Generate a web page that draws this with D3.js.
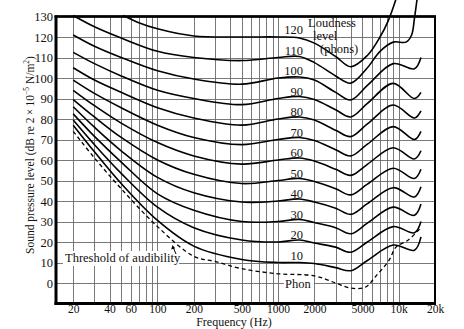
<!DOCTYPE html>
<html>
<head>
<meta charset="utf-8">
<script src="https://cdn.jsdelivr.net/npm/d3@7"></script>
<style>
  html, body { margin: 0; padding: 0; background: #fff; }
  svg { display: block; }
  text { font-family: "Liberation Serif", "Times New Roman", serif; fill: #111; }
</style>
</head>
<body>
<svg id="chart" width="464" height="329"></svg>
<script>
// Equal-loudness contours: [frequency Hz, sound pressure level dB]
const phon120 = [[52,130.5],[70,127],[100,124],[200,120.5],[500,120],[1000,120],[1500,119.5],[2000,117],[3000,110.5],[4000,105.5],[5500,111],[7000,120],[8200,128],[9500,138.5]];
const phon110 = [[20,130.5],[30,125],[50,119.5],[100,113],[200,110],[500,108.5],[1000,110],[1500,110.5],[2000,107.5],[3000,101],[4000,97.5],[5500,105],[7000,113],[9000,117.5],[11500,117.5],[12800,121],[13500,129],[14200,138.5]];
const phon100 = [[20,121],[30,115.5],[50,110],[100,103.5],[200,99.5],[500,97],[1000,100],[1500,100.5],[2000,99],[3000,93],[4000,89.3],[5500,96.4],[9000,107],[13500,104.5],[15300,110]];
const phon90  = [[20,112.5],[30,107],[50,101],[100,94],[200,90],[500,87],[1000,90],[1500,91],[2000,89.5],[3000,84.5],[4000,81],[5500,87.6],[9000,97.4],[13500,90],[15300,93]];
const phon80  = [[20,105],[30,99],[50,93],[100,85.5],[200,80.5],[500,77],[1000,80],[1500,81],[2000,79.5],[3000,74.5],[4000,71.4],[5500,77.6],[9000,86.8],[13500,80.5],[15300,84]];
const phon70  = [[20,99],[30,92.5],[50,85.5],[100,77],[200,71],[500,67.5],[1000,70],[1500,71],[2000,69.5],[3000,65],[4000,62],[5500,67.7],[9000,76.3],[13500,70],[15300,74]];
const phon60  = [[20,94],[30,86.5],[50,78],[100,68.5],[200,62],[500,58],[1000,60],[1500,61],[2000,59.5],[3000,55.5],[4000,52.5],[5500,57.9],[9000,66],[13500,60.5],[15300,64.5]];
const phon50  = [[20,89.5],[30,81],[50,71],[100,60],[200,53],[500,48.5],[1000,50],[1500,51],[2000,49.5],[3000,46],[4000,43],[5500,48.2],[9000,56],[13500,51],[15300,55.5]];
const phon40  = [[20,86],[30,76],[50,64.5],[100,51.5],[200,44],[500,39.5],[1000,40],[1500,41],[2000,39.5],[3000,36.5],[4000,33.5],[5500,38.7],[9000,46.5],[13500,42],[15300,47]];
const phon30  = [[20,82.5],[30,71.5],[50,59],[100,43.5],[200,35.5],[500,30],[1000,30],[1500,31],[2000,29.5],[3000,27],[4000,24],[5500,29.2],[9000,37],[13500,33],[15300,38.5]];
const phon20  = [[20,79.5],[30,67.5],[50,53.5],[100,37],[200,27],[500,21],[1000,20],[1500,21],[2000,19.5],[3000,17.5],[4000,15],[5500,20],[9000,27.5],[13500,24.5],[15300,30]];
const phon10  = [[20,77],[30,64],[50,48.5],[100,30.5],[200,18],[500,11.5],[1000,10],[1500,10],[2000,9.5],[3000,7.5],[4000,6],[5500,11],[9000,18.5],[13500,16],[15300,22.5]];
const threshold = [[20,74],[30,61],[50,46],[100,27.5],[200,13],[300,10.5],[500,7],[1000,4.5],[2000,3.5],[3000,0],[4000,-2.5],[5300,-2],[6500,3.5],[8300,11],[9500,17.5],[12000,21],[15300,27]];

const phonLevels = [120,110,100,90,80,70,60,50,40,30,20,10];
const contours = [phon120,phon110,phon100,phon90,phon80,phon70,phon60,phon50,phon40,phon30,phon20,phon10];

// Axis ticks and grid
const yTicks = [0,10,20,30,40,50,60,70,80,90,100,110,120,130];
const yGrid = [0,10,20,30,40,50,60,70,80,90,100,110,120];
const xTicks = [20,40,60,100,200,500,1000,2000,5000,10000,20000];
const xTickLabels = ["20","40","60","100","200","500","1000","2000","5000","10k","20k"];
const xGrid = [20,30,40,50,60,70,80,90,100,200,300,400,500,600,700,800,900,1000,2000,3000,4000,5000,6000,7000,8000,9000,10000];

const svg = d3.select("#chart");
const plotL = 56, plotR = 435, plotT = 16.5, plotB = 303.5;

const x = d3.scaleLog().domain([14.4, 20000]).range([plotL, plotR]);
const y = d3.scaleLinear().domain([-10, 130]).range([plotB, plotT]);

// grid
const grid = svg.append("g").attr("stroke", "#6a6a6a").attr("stroke-width", 0.9);
grid.selectAll("line.v").data(xGrid).join("line")
  .attr("class", "v")
  .attr("x1", d => Math.round(x(d)) + 0.5).attr("x2", d => Math.round(x(d)) + 0.5)
  .attr("y1", plotT).attr("y2", plotB);
grid.selectAll("line.h").data(yGrid).join("line")
  .attr("class", "h")
  .attr("x1", plotL).attr("x2", plotR)
  .attr("y1", d => Math.round(y(d)) + 0.5).attr("y2", d => Math.round(y(d)) + 0.5);

// label backgrounds that mask the grid
svg.append("rect").attr("x", 63).attr("y", 251).attr("width", 116).attr("height", 15).attr("fill", "#fff");
svg.append("rect").attr("x", 284).attr("y", 277).attr("width", 30).attr("height", 14).attr("fill", "#fff");

// contours
const line = d3.line()
  .x(d => x(d[0]))
  .y(d => y(d[1]))
  .curve(d3.curveCatmullRom.alpha(0.5));

svg.append("g").selectAll("path").data(contours).join("path")
  .attr("d", line)
  .attr("fill", "none")
  .attr("stroke", "#000")
  .attr("stroke-width", 1.6);

svg.append("path")
  .datum(threshold)
  .attr("d", line)
  .attr("fill", "none")
  .attr("stroke", "#000")
  .attr("stroke-width", 1.3)
  .attr("stroke-dasharray", "4,3");

// frame
svg.append("rect")
  .attr("x", plotL).attr("y", plotT)
  .attr("width", plotR - plotL).attr("height", plotB - plotT)
  .attr("fill", "none").attr("stroke", "#000").attr("stroke-width", 2);
svg.append("line").attr("x1", plotL).attr("x2", plotL).attr("y1", plotT - 1).attr("y2", plotB + 1.5)
  .attr("stroke", "#000").attr("stroke-width", 3);
svg.append("line").attr("x1", plotL - 1.5).attr("x2", plotR + 1).attr("y1", plotB).attr("y2", plotB)
  .attr("stroke", "#000").attr("stroke-width", 3);
svg.append("line").attr("x1", plotL - 1.5).attr("x2", plotR + 1).attr("y1", plotT).attr("y2", plotT)
  .attr("stroke", "#000").attr("stroke-width", 2.5);

// axes
const yAxis = svg.append("g")
  .attr("transform", `translate(${plotL - 3},0)`)
  .call(d3.axisLeft(y).tickValues(yTicks).tickSize(0).tickPadding(0).tickFormat(d3.format("d")));
yAxis.select(".domain").remove();
yAxis.selectAll("text").attr("font-size", 12.5).attr("font-family", "Liberation Serif").attr("fill", "#111");

const xAxis = svg.append("g")
  .attr("transform", `translate(0,${plotB})`)
  .call(d3.axisBottom(x).tickValues(xTicks).tickSize(0).tickPadding(1.5).tickFormat((d, i) => xTickLabels[i]));
xAxis.select(".domain").remove();
xAxis.selectAll("text").attr("font-size", 11.5).attr("font-family", "Liberation Serif").attr("fill", "#111");

// phon labels
svg.append("g").selectAll("text").data(phonLevels).join("text")
  .attr("x", 303)
  .attr("y", d => y(d) - 3)
  .attr("text-anchor", "end")
  .attr("font-size", 12.5)
  .text(d => d);

// legend heading
const head = svg.append("text").attr("font-size", 12.5);
head.append("tspan").attr("x", 308).attr("y", 27).text("Loudness");
head.append("tspan").attr("x", 313).attr("y", 40).text("level");
head.append("tspan").attr("x", 320).attr("y", 53).text("(phons)");

// threshold annotation
svg.append("text").attr("x", 65).attr("y", 262).attr("font-size", 12.5).text("Threshold of audibility");
svg.append("line").attr("x1", 176).attr("y1", 254).attr("x2", 173.5).attr("y2", 248)
  .attr("stroke", "#000").attr("stroke-width", 1);
svg.append("path").attr("d", "M172.5,245 L171.2,249.5 L175.2,248.2 Z").attr("fill", "#000");
svg.append("text").attr("x", 285).attr("y", 288).attr("font-size", 12.5).text("Phon");

// axis titles
svg.append("text")
  .attr("x", 234).attr("y", 326)
  .attr("text-anchor", "middle").attr("font-size", 12)
  .text("Frequency (Hz)");

const yt = svg.append("text")
  .attr("transform", "translate(34,155) rotate(-90)")
  .attr("text-anchor", "middle").attr("font-size", 11.5);
yt.append("tspan").text("Sound pressure level (dB re 2\u2009\u00d7\u200910");
yt.append("tspan").attr("font-size", 7.5).attr("dy", -5).text("\u22125");
yt.append("tspan").attr("dy", 5).text(" N/m");
yt.append("tspan").attr("font-size", 7.5).attr("dy", -5).text("2");
yt.append("tspan").attr("dy", 5).text(")");
</script>
</body>
</html>
